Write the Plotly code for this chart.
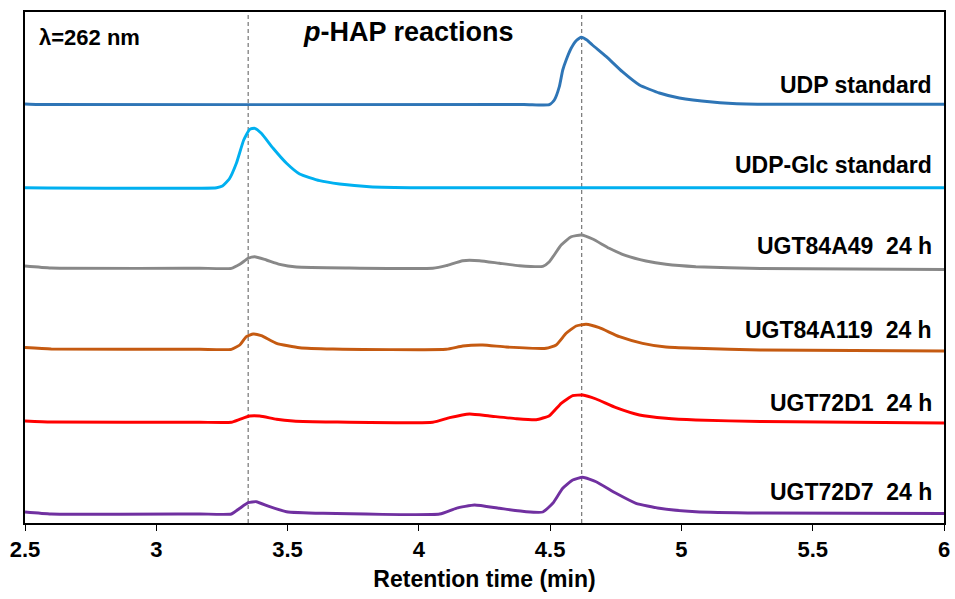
import plotly.graph_objects as go

# ---- data (retention time in min, detector signal incl. stacking offset) ----
udp_t = [2.5, 2.55, 4.40, 4.497, 4.516, 4.535, 4.548, 4.561, 4.580, 4.599, 4.618, 4.640, 4.661, 4.714, 4.775, 4.840, 4.916, 4.992, 5.117, 5.247, 5.372, 6.0]
udp_y = [419, 418.5, 418.5, 418.3, 423, 436.3, 453, 463, 474.7, 482.3, 485.7, 483, 478, 466.3, 451.3, 438, 430, 425, 421, 419, 418.7, 418.7]

glc_t = [2.5, 3.23, 3.252, 3.278, 3.305, 3.333, 3.356, 3.375, 3.400, 3.445, 3.496, 3.546, 3.622, 3.698, 3.812, 4.003, 6.0]
glc_y = [335.3, 335.3, 337, 344, 359.7, 383, 393.7, 394.7, 389.7, 374.7, 359.7, 349, 342.3, 339, 336.3, 335.3, 335.3]

a49_t = [2.5, 2.6, 3.166, 3.286, 3.318, 3.350, 3.375, 3.419, 3.470, 3.534, 3.724, 4.053, 4.104, 4.167, 4.231, 4.307, 4.383, 4.472, 4.497, 4.542, 4.580, 4.618, 4.662, 4.725, 4.789, 4.865, 4.941, 5.055, 5.3, 6.0]
a49_y = [257, 255, 254.7, 254.7, 258.7, 264.7, 266.3, 263, 258.7, 256, 255, 254.7, 257.3, 262.3, 262.3, 259.7, 257.3, 256.7, 261.3, 278, 286.3, 288, 284, 274.7, 267.3, 262, 258.7, 256.3, 254.5, 253.5]

a119_t = [2.5, 2.6, 3.166, 3.286, 3.318, 3.343, 3.369, 3.400, 3.458, 3.546, 3.673, 4.104, 4.167, 4.243, 4.333, 4.485, 4.523, 4.561, 4.599, 4.637, 4.687, 4.764, 4.852, 4.941, 5.055, 5.3, 6.0]
a119_y = [175.5, 174, 173.7, 173.7, 178, 186.3, 189, 187.3, 179.7, 175.3, 174, 173.7, 177, 178, 176, 174.7, 178, 189.7, 197, 198.7, 195.3, 186.3, 179.7, 176, 174.7, 173, 172]

d1_t = [2.5, 2.6, 3.166, 3.286, 3.318, 3.356, 3.394, 3.458, 3.521, 3.673, 4.053, 4.117, 4.193, 4.269, 4.371, 4.447, 4.497, 4.542, 4.586, 4.624, 4.675, 4.751, 4.840, 4.941, 5.055, 5.3, 6.0]
d1_y = [102, 101, 100.7, 100.7, 103.7, 107, 107, 103.7, 102, 101, 100.7, 105.3, 109, 107, 104.3, 103.3, 107.3, 119.7, 127.3, 128, 124, 115.3, 108, 104.7, 103, 101.5, 100]

d7_t = [2.5, 2.6, 3.166, 3.286, 3.318, 3.350, 3.381, 3.432, 3.496, 3.635, 4.079, 4.142, 4.212, 4.307, 4.409, 4.472, 4.510, 4.548, 4.586, 4.624, 4.675, 4.751, 4.827, 4.916, 5.055, 5.3, 6.0]
d7_y = [11, 9, 9, 9, 14.7, 20.3, 21.3, 16.3, 11.3, 9.7, 9, 14.7, 18, 14.7, 11.3, 11, 19.7, 34.7, 43, 45.7, 41.3, 29.7, 19.7, 14.7, 11.3, 10, 9.5]

series_names = ["UDP standard", "UDP-Glc standard", "UGT84A49\u00a0\u00a024 h",
                "UGT84A119\u00a0\u00a024 h", "UGT72D1\u00a0\u00a024 h", "UGT72D7\u00a0\u00a024 h"]
label_y = [438, 358, 277, 193, 120, 31]
marker_times = [3.35, 4.62]
x_ticks = [2.5, 3, 3.5, 4, 4.5, 5, 5.5, 6]

# ---- styling ----
colors = ["#2E75B6", "#00B0F0", "#888888", "#C55A11", "#FF0000", "#7030A0"]
FONT = "Liberation Sans, Arial, sans-serif"

fig = go.Figure()
all_t = [udp_t, glc_t, a49_t, a119_t, d1_t, d7_t]
all_y = [udp_y, glc_y, a49_y, a119_y, d1_y, d7_y]
for t, y, c, n in zip(all_t, all_y, colors, series_names):
    fig.add_trace(go.Scatter(x=t, y=y, mode="lines", name=n,
                             line=dict(color=c, width=2.9, shape="spline", smoothing=0.45),
                             showlegend=False, hoverinfo="skip"))

for xt in marker_times:
    fig.add_shape(type="line", xref="x", yref="paper", x0=xt, x1=xt, y0=0, y1=1,
                  line=dict(color="#7F7F7F", width=1.3, dash="4px,3px"), layer="below")

for n, ly in zip(series_names, label_y):
    fig.add_annotation(x=5.963, y=ly, xref="x", yref="y", text="<b>%s</b>" % n,
                       xanchor="right", yanchor="middle", showarrow=False,
                       font=dict(family=FONT, size=23, color="#000000"))

fig.add_annotation(x=2.546, y=486, xref="x", yref="y", text="<b>\u03bb=262 nm</b>",
                   xanchor="left", yanchor="middle", showarrow=False,
                   font=dict(family=FONT, size=22, color="#000000"))
fig.add_annotation(x=3.55, y=491, xref="x", yref="y",
                   text="<b><i>p</i>-HAP reactions</b>",
                   xanchor="left", yanchor="middle", showarrow=False,
                   font=dict(family=FONT, size=27, color="#000000"))

fig.update_layout(
    width=955, height=599,
    margin=dict(l=25, r=5, t=12, b=76),
    paper_bgcolor="white", plot_bgcolor="white",
    font=dict(family=FONT, color="#000000"),
    xaxis=dict(range=[2.5, 6], tickvals=x_ticks, ticktext=[("<b>%g</b>" % v) for v in x_ticks],
               ticks="outside", ticklen=6, tickwidth=1.3, tickcolor="#000000",
               showline=True, linecolor="#000000", linewidth=1.5, mirror=True,
               showgrid=False, zeroline=False,
               tickfont=dict(family=FONT, size=22, color="#000000"),
               title=dict(text="<b>Retention time (min)</b>",
                          font=dict(family=FONT, size=23, color="#000000"), standoff=10)),
    yaxis=dict(range=[0, 511], showticklabels=False, ticks="", showgrid=False,
               zeroline=False, showline=True, linecolor="#000000", linewidth=1.5,
               mirror=True),
)

fig.write_html("out.html")
